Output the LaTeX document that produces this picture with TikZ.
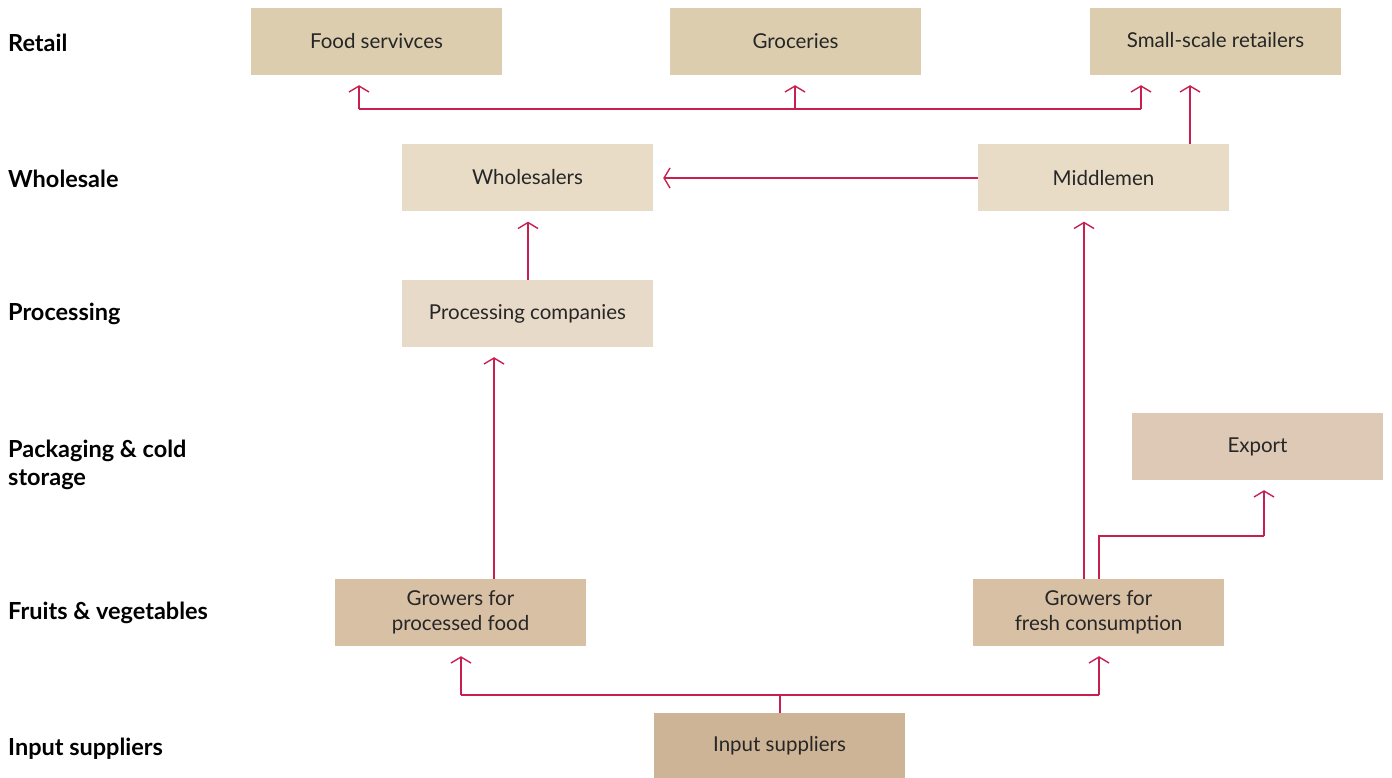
\documentclass[tikz,border=0pt]{standalone}
\usepackage{fontspec}
\setmainfont{Lato}
\usetikzlibrary{arrows.meta}
\definecolor{retailc}{RGB}{220,205,174}
\definecolor{wholec}{RGB}{232,220,198}
\definecolor{procc}{RGB}{232,218,200}
\definecolor{exportc}{RGB}{221,201,181}
\definecolor{growc}{RGB}{216,192,164}
\definecolor{inputc}{RGB}{206,180,150}
\definecolor{linec}{RGB}{200,30,80}
\begin{document}
\begin{tikzpicture}[x=1pt,y=-1pt,
  box/.style={minimum width=251pt,minimum height=67pt,inner sep=0pt,font=\fontsize{20.5}{25}\selectfont,align=center,text=black!85},
  lvl/.style={anchor=west,font=\fontsize{23.5}{28}\selectfont\bfseries,align=left,inner sep=0pt},
  conn/.style={draw=linec,line width=1.4pt},
  arr/.style={conn,-{Straight Barb[length=6pt,width=20pt,line width=1.4pt]},shorten >=10pt}]
\useasboundingbox (0,0) rectangle (1392,778);
% levels
\node[lvl] (lr) at (8,43) {Retail};
\node[lvl] (lw) at (8,179) {Wholesale};
\node[lvl] (lp) at (8,314) {Processing};
\node[lvl] (lpk) at (8,465) {Packaging \& cold\\storage};
\node[lvl] (lf) at (8,613) {Fruits \& vegetables};
\node[lvl] (li) at (8,749) {Input suppliers};
% boxes
\node[box,fill=retailc] (food) at (376.5,41.5) {Food servivces};
\node[box,fill=retailc] (groc) at (795.5,41.5) {Groceries};
\node[box,fill=retailc] (small) at (1215.5,41.5) {\raisebox{4pt}{Small-scale retailers}};
\node[box,fill=wholec] (whole) at (527.5,178) {\raisebox{2pt}{Wholesalers}};
\node[box,fill=wholec] (middle) at (1103.5,178) {\raisebox{-2pt}{Middlemen}};
\node[box,fill=procc] (proc) at (527.5,313.5) {Processing companies};
\node[box,fill=exportc] (export) at (1257.5,446.5) {Export};
\node[box,fill=growc] (gproc) at (460.5,612.5) {Growers for\\processed food};
\node[box,fill=growc] (gfresh) at (1098.5,612.5) {Growers for\\fresh consumption};
\node[box,fill=inputc,minimum height=66pt] (input) at (779.5,746) {Input suppliers};
% coordinates
\coordinate (rl) at (359,109);
\coordinate (rm) at (795,109);
\coordinate (rr) at (1141,109);
\coordinate (ij) at (780,695);
\coordinate (il) at (461,695);
\coordinate (ir) at (1099,695);
\coordinate (ek) at (1099,536);
\coordinate (ek2) at (1264,536);
\coordinate (pw) at (528,0);
% retail bracket
\draw[conn] (rl) -- (rr);
\draw[arr] (rl) -- (rl |- food.south);
\draw[arr] (rm) -- (rm |- groc.south);
\draw[arr] (rr) -- (rr |- small.south);
\draw[arr] (middle.north -| 1190,0) -- (small.south -| 1190,0);
% wholesale
\draw[arr] (middle.west) -- (whole.east);
\draw[arr] (proc.north -| pw) -- (whole.south -| pw);
% growers
\draw[arr] (gproc.north -| 494,0) -- (proc.south -| 494,0);
\draw[arr] (gfresh.north -| 1084,0) -- (middle.south -| 1084,0);
\draw[conn] (gfresh.north -| ek) -- (ek) -- (ek2);
\draw[arr] (ek2) -- (ek2 |- export.south);
% input
\draw[conn] (input.north -| ij) -- (ij);
\draw[conn] (il) -- (ir);
\draw[arr] (il) -- (il |- gproc.south);
\draw[arr] (ir) -- (ir |- gfresh.south);
\end{tikzpicture}
\end{document}
